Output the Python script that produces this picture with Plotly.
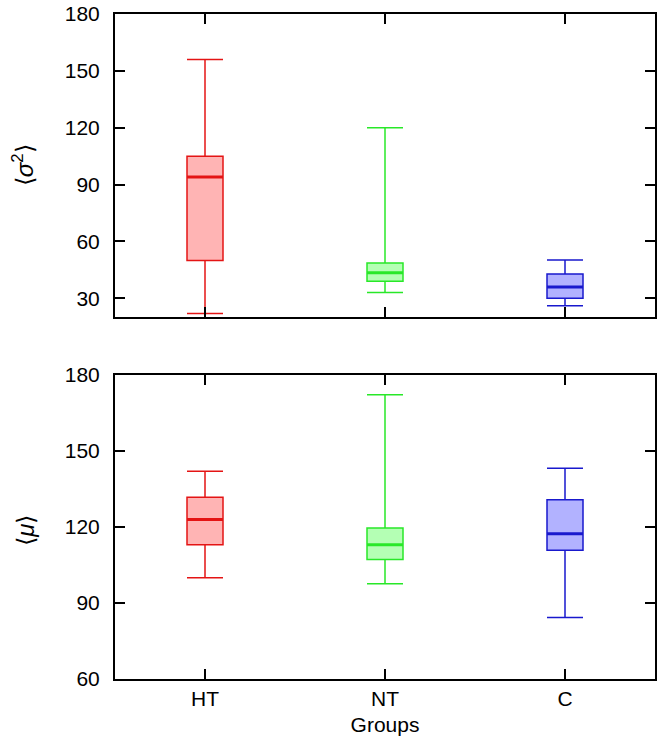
import plotly.graph_objects as go

groups = ["HT", "NT", "C"]
xpos = [0, 1, 2]

# top panel: <sigma^2>
s_low = [22, 33, 26]
s_q1 = [50, 39, 30]
s_med = [94, 43.5, 36]
s_q3 = [105, 48.6, 42.8]
s_high = [156, 120, 50.2]

# bottom panel: <mu>
m_low = [100, 97.6, 84.3]
m_q1 = [113, 107.2, 110.8]
m_med = [123, 113, 117.4]
m_q3 = [131.8, 119.6, 130.8]
m_high = [142, 172.2, 143.2]

line_colors = ["rgb(228,20,20)", "rgb(40,232,40)", "rgb(25,25,205)"]
fill_colors = ["rgb(255,180,180)", "rgb(180,255,180)", "rgb(178,178,255)"]

BW = 0.2

fig = go.Figure()

def add_panel(low, q1, med, q3, high, xa, ya):
    for i in range(3):
        fig.add_trace(go.Box(
            x=[xpos[i]], q1=[q1[i]], median=[med[i]], q3=[q3[i]],
            lowerfence=[low[i]], upperfence=[high[i]],
            width=BW, whiskerwidth=1,
            line=dict(color=line_colors[i], width=1.5),
            fillcolor=fill_colors[i], boxpoints=False,
            showlegend=False, xaxis=xa, yaxis=ya, hoverinfo="skip"))
        fig.add_trace(go.Scatter(
            x=[xpos[i] - BW / 2, xpos[i] + BW / 2], y=[med[i], med[i]],
            mode="lines", line=dict(color=line_colors[i], width=3),
            showlegend=False, xaxis=xa, yaxis=ya, hoverinfo="skip"))

add_panel(s_low, s_q1, s_med, s_q3, s_high, "x", "y")
add_panel(m_low, m_q1, m_med, m_q3, m_high, "x2", "y2")

font = dict(family="Liberation Sans, Arial, sans-serif", size=21, color="black")
title_font = dict(family="Liberation Sans, Arial, sans-serif", size=24, color="black")

axis_common = dict(showline=True, linecolor="black", linewidth=2, mirror="ticks",
                   ticks="inside", ticklen=10, tickwidth=2, tickcolor="black",
                   showgrid=False, zeroline=False, tickfont=font, automargin=False)

fig.update_layout(
    width=662, height=753,
    margin=dict(l=115, r=7, t=14, b=74),
    paper_bgcolor="white", plot_bgcolor="white",
    font=font,
    xaxis=dict(axis_common, domain=[0, 1], range=[-0.5, 2.5], anchor="y",
               tickvals=xpos, showticklabels=False),
    yaxis=dict(axis_common, domain=[0.544, 1], range=[20, 180], anchor="x",
               tickvals=[30, 60, 90, 120, 150, 180], ticklabelstandoff=9),
    xaxis2=dict(axis_common, domain=[0, 1], range=[-0.5, 2.5], anchor="y2",
                tickvals=xpos, ticktext=groups,
                title=dict(text="Groups", font=font, standoff=8)),
    yaxis2=dict(axis_common, domain=[0, 0.457], range=[60, 180], anchor="x2",
                tickvals=[60, 90, 120, 150, 180], ticklabelstandoff=9),
    annotations=[
        dict(text="⟨<i>σ</i><sup>2</sup>⟩", xref="paper", yref="paper",
             x=-0.17, y=0.773, textangle=-90, showarrow=False,
             xanchor="center", yanchor="middle", font=title_font),
        dict(text="⟨<i>μ</i>⟩", xref="paper", yref="paper",
             x=-0.167, y=0.224, textangle=-90, showarrow=False,
             xanchor="center", yanchor="middle", font=title_font),
    ],
)

fig.write_html("out.html", config={"displayModeBar": False},
               post_script="document.body.style.margin='0px';")
